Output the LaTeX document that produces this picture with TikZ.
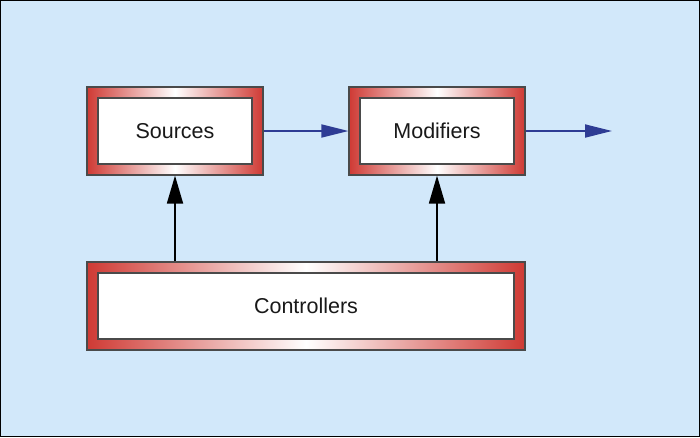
\documentclass[tikz,border=0pt]{standalone}
\usepackage{fontspec}
\setmainfont{Liberation Sans}
\usetikzlibrary{arrows.meta,calc}
\definecolor{bg}{HTML}{D2E8FA}
\definecolor{fr}{HTML}{CF3A34}
\definecolor{edge}{HTML}{4A4A4A}
\definecolor{ablue}{HTML}{2E3C94}
\begin{document}
\begin{tikzpicture}[x=1pt,y=-1pt,
  frm/.style={draw=edge, line width=1.2pt, left color=fr, right color=fr, middle color=white,
    font=\fontsize{21.5}{24}\selectfont, text=black!90,
    path picture={\draw[edge,fill=white,line width=1.2pt]
      ([shift={(11pt,11pt)}]path picture bounding box.south west) rectangle
      ([shift={(-11pt,-11pt)}]path picture bounding box.north east);}},
  barrow/.style={draw=ablue, line width=1.8pt, -{Triangle[length=27pt,width=13pt]}},
  karrow/.style={draw=black, line width=1.8pt, -{Triangle[length=28pt,width=16pt]}}]
\fill[bg,draw=black,line width=1pt] (0.5,0.5) rectangle (699.5,436.5);
\useasboundingbox (0,0) rectangle (700,437);
\node[frm, minimum width=176pt, minimum height=88pt, inner sep=0pt] (src) at (175,131) {Sources};
\node[frm, minimum width=176pt, minimum height=88pt, inner sep=0pt] (mod) at (437,131) {Modifiers};
\node[frm, minimum width=438pt, minimum height=88pt, inner sep=0pt] (ctl) at (306,306) {Controllers};
\coordinate (out) at (612,131);
\draw[barrow] (src.east) -- (mod.west);
\draw[barrow] (mod.east) -- (out);
\draw[karrow] (ctl.north -| src.south) -- (src.south);
\draw[karrow] (ctl.north -| mod.south) -- (mod.south);
\end{tikzpicture}
\end{document}
